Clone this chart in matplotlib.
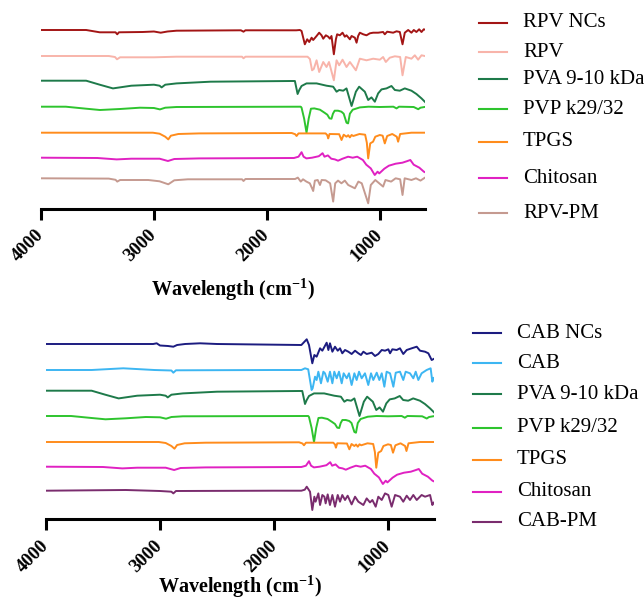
import matplotlib
matplotlib.use("Agg")
import matplotlib.pyplot as plt
import numpy as np
from matplotlib.lines import Line2D

# FTIR spectra: (wavenumber cm-1, relative transmittance offset)
RPV_NC = [(4000, 0), (3600, 0), (3480, -2.3), (3340, -2.3), (3325, -4.3), (3310, -2.3), (3100, -2),
          (3000, -1.5), (2940, -2.7), (2880, -1.5), (2800, -0.7), (2230, -0.3), (2207, -1.7), (2190, -0.3),
          (1740, -0.3), (1708, 0), (1693, -1), (1664, -14.3), (1643, -9.3), (1625, -12), (1604, -7.7),
          (1590, -10), (1560, -6), (1537, -2.7), (1516, -5.3), (1501, -8.7), (1478, -5.3), (1457, -6.7),
          (1442, -8.7), (1428, -6), (1407, -24.3), (1389, -9.3), (1378, -4.3), (1354, -5.3), (1330, -2.7),
          (1310, -6.7), (1295, -5.3), (1265, -9.3), (1250, -6), (1221, -7.7), (1206, -12.7), (1192, -6),
          (1177, -2.7), (1147, -4.3), (1118, -5.3), (1088, -3.3), (1059, -2.7), (1015, -2.7), (971, -2),
          (956, -4.3), (935, -1.7), (882, -2.7), (852, -1.3), (823, -2), (799, -14.3), (779, -2.7),
          (749, 0), (720, -2.7), (699, 0), (676, -2), (652, 0.7), (631, -2), (611, 0.7), (590, 0)]

RPV = [(4000, 0), (3400, 0), (3345, -1), (3327, -3.3), (3300, -1.3), (3000, -1.3), (2800, -0.7),
       (2220, -0.7), (2207, -2.3), (2190, -0.7), (1640, -0.7), (1619, -3), (1600, -14.3), (1585, -13),
       (1560, -4.3), (1537, -16), (1501, -6), (1472, -11), (1450, -6), (1407, -24.3), (1383, -4.3),
       (1360, -9.3), (1330, -3.7), (1295, -11), (1265, -6), (1212, -14.3), (1177, -2.7), (1118, -4.3),
       (1059, -2.7), (1000, -3.7), (971, -1), (947, -6), (912, -1.7), (867, -0.3), (820, -1),
       (799, -19.3), (770, -1), (720, -2.7), (690, 0.7), (661, -3.7), (631, 0.7), (590, -0.3)]

PVA = [(4000, 0), (3600, 0), (3480, -4), (3363, -7.7), (3200, -5), (3000, -4), (2950, -5),
       (2932, -6.7), (2900, -4), (2800, -2.7), (2500, -1), (1780, -0.3), (1752, -0.3), (1728, -13.3),
       (1713, -9.3), (1693, -5.3), (1649, -2.7), (1560, -2.7), (1472, -5), (1413, -6), (1383, -11),
       (1360, -9.3), (1324, -10), (1295, -7.7), (1250, -25.3), (1212, -11), (1183, -6), (1133, -11),
       (1103, -19.3), (1074, -16.7), (1044, -21), (1015, -12.7), (985, -8.7), (941, -7.7), (897, -5.3),
       (867, -9.3), (823, -10), (779, -7.7), (720, -10), (676, -13.3), (631, -17.7), (593, -22)]

PVP = [(4000, 0), (3780, 0), (3600, -2), (3478, -3.3), (3300, -2.3), (3124, -1), (3000, -1.3),
       (2947, -2.7), (2900, -1), (2800, -0.3), (1700, 0), (1693, -1), (1670, -12), (1649, -26),
       (1630, -12), (1610, -2), (1580, -1.7), (1530, -3), (1490, -6), (1465, -8), (1445, -11.7),
       (1428, -12), (1415, -7), (1400, -4), (1370, -4), (1340, -5), (1320, -7), (1295, -16),
       (1281, -16.7), (1265, -7), (1240, -3), (1177, -0.7), (1100, 0), (1000, -0.3), (880, 0),
       (852, -1.7), (830, 0), (700, -0.3), (660, -2.5), (640, -1), (590, 0)]

TPGS = [(4000, 0), (3010, 0), (2950, -1), (2900, -4), (2873, -6.7), (2850, -3), (2784, -1.3),
        (2600, -0.7), (1780, -0.3), (1750, -1.5), (1737, -3.3), (1720, -0.7), (1480, -0.7),
        (1465, -2.5), (1457, -5.7), (1445, -1.3), (1360, -1.5), (1339, -7.3), (1320, -2), (1295, -4),
        (1280, -2.5), (1265, -4.7), (1250, -2.3), (1235, -3.3), (1180, -1.3), (1130, -2), (1115, -10),
        (1103, -25.7), (1085, -10.7), (1060, -9), (1040, -4), (1000, -2.3), (975, -3), (956, -10.7),
        (935, -3.3), (890, -1.3), (850, -4), (838, -9), (820, -1.3), (720, 0), (590, 0)]

CHITOSAN = [(4000, 0), (3500, -0.3), (3330, -1.7), (3200, -1), (2950, -1), (2876, -3.3), (2820, -1.3),
            (2600, -0.7), (1760, -0.3), (1720, 1), (1693, 5.5), (1675, 1), (1650, -0.7), (1600, 0),
            (1560, 1), (1540, 1.5), (1507, 4.5), (1490, 1), (1460, 2.3), (1430, -1), (1398, -1.7),
            (1370, -3), (1330, -1), (1281, 1), (1240, 0), (1200, 1), (1150, -2.3), (1120, -7),
            (1080, -10.7), (1045, -17.3), (1020, -14), (1005, -15.7), (960, -11), (920, -8), (860, -6),
            (800, -5), (760, -3.5), (730, -2.3), (700, -7), (650, -10), (610, -14), (590, -15)]

RPV_PM = [(4000, 0), (3400, -0.3), (3340, -1.5), (3325, -3.3), (3300, -1.7), (3050, -1.7), (2950, -3),
          (2873, -6), (2820, -2), (2700, -1), (2220, -1), (2207, -2.7), (2190, -0.7), (1750, -0.7),
          (1726, 0.7), (1700, -3.3), (1680, -1), (1650, -3.3), (1620, -5), (1600, -10), (1590, -12.7),
          (1575, -2.3), (1550, -1.7), (1530, -6.7), (1515, -1.7), (1480, -2), (1440, -5), (1413, -23.3),
          (1395, -5), (1370, -2.3), (1340, -5), (1310, -2.3), (1280, -6.7), (1221, -10), (1190, -3.3),
          (1160, -5), (1103, -25), (1080, -6.7), (1040, -1.7), (971, -8.3), (950, -1.7), (900, -3.3),
          (860, 0), (820, -1), (799, -16.7), (780, 0), (720, -1.7), (680, 0), (640, -2.3), (600, 0.7),
          (590, 0)]

CAB_NC = [(4000, 0), (3060, 0), (3029, 0.7), (3000, -1.5), (2930, -2), (2883, -2.7), (2850, -1),
          (2780, 0), (2649, 0.7), (2500, 0), (1760, -1), (1713, 4.7), (1693, -1), (1664, -19.3),
          (1646, -11), (1626, -12.7), (1596, -4.3), (1576, -6.7), (1538, 1.3), (1523, -6), (1509, 0.7),
          (1488, -7.7), (1465, -2.7), (1441, -6.7), (1421, -4.3), (1401, -9.3), (1377, -6), (1348, -7.7),
          (1319, -10), (1289, -6.7), (1260, -9.3), (1237, -11), (1216, -7.7), (1187, -10), (1143, -8.7),
          (1114, -12), (1085, -10), (1055, -6), (1026, -6.7), (997, -5.3), (982, -9.3), (962, -5.3),
          (924, -6), (895, -4.3), (866, -10), (836, -6), (792, -4.3), (748, -2.7), (719, -6.7),
          (675, -7.7), (646, -9.3), (617, -16), (600, -15)]

CAB = [(4000, 0), (3600, 0), (3322, 1.7), (3050, 0), (2900, -0.5), (2883, -2.7), (2860, -0.3), (2000, 0),
       (1760, 0), (1728, 1.7), (1700, 0.7), (1670, -20), (1661, -18.3), (1640, -6.7), (1626, -10),
       (1611, -1.7), (1588, -13.3), (1567, -1.7), (1553, -3.3), (1529, -11.7), (1509, -1.7),
       (1488, -13.3), (1471, -1.7), (1450, -8.3), (1430, -1.7), (1406, -13.3), (1389, -3.3),
       (1362, -8.3), (1342, -3.3), (1319, -15), (1295, -3.3), (1275, -10), (1254, -1.7), (1231, -8.3),
       (1202, -3.3), (1173, -15), (1149, -3.3), (1129, -10), (1099, -2.7), (1076, -10), (1055, -3.3),
       (1032, -16.7), (1012, -1.7), (982, -3.3), (953, -16.7), (932, -2.7), (895, -1.7), (866, -10),
       (845, -1.7), (807, -3.3), (778, -8.3), (757, -1.7), (734, -10), (705, -3.3), (661, 0),
       (626, 1.7), (611, -11.7), (600, -8)]

CAB_PM = [(4000, 0), (3300, 0.7), (3000, -0.3), (2900, -1), (2883, -2.7), (2860, -0.3), (2000, 0),
          (1760, 0), (1730, 1), (1713, 4), (1684, -1), (1664, -19.3), (1646, -6), (1635, -11),
          (1611, -2.7), (1596, -14.3), (1576, -4.3), (1558, -6), (1547, -12.7), (1529, -3.7),
          (1509, -14.3), (1488, -4.3), (1465, -16), (1441, -4.3), (1421, -11), (1401, -4.3), (1377, -9.3),
          (1354, -5), (1319, -13.7), (1289, -6), (1260, -11), (1216, -14.3), (1187, -7.7), (1158, -11.7),
          (1137, -9.3), (1108, -16), (1085, -6), (1055, -9.3), (1026, -2.7), (997, -4.3), (968, -16),
          (938, -4.3), (895, -6), (866, -11), (836, -5), (807, -9.3), (778, -4.3), (748, -9.3),
          (705, -4.3), (675, -6), (631, -4.3), (611, -14.3), (600, -12)]

top_names = ["RPV NCs", "RPV", "PVA 9-10 kDa", "PVP k29/32", "TPGS", "Chitosan", "RPV-PM"]
bottom_names = ["CAB NCs", "CAB", "PVA 9-10 kDa", "PVP k29/32", "TPGS", "Chitosan", "CAB-PM"]
top_spectra = [RPV_NC, RPV, PVA, PVP, TPGS, CHITOSAN, RPV_PM]
bottom_spectra = [CAB_NC, CAB, PVA, PVP, TPGS, CHITOSAN, CAB_PM]
ticks = [4000, 3000, 2000, 1000]

top_colors = ["#A31515", "#F8B4AA", "#1E7A4A", "#2EC42E", "#FF8C1C", "#E021C2", "#C59A90"]
bottom_colors = ["#1C1C80", "#3DB6F2", "#1E7A4A", "#2EC42E", "#FF8C1C", "#E021C2", "#7A2C6E"]

serif = ["Liberation Serif", "DejaVu Serif"]
plt.rcParams["font.family"] = serif
plt.rcParams["mathtext.fontset"] = "custom"
plt.rcParams["mathtext.rm"] = "Liberation Serif:bold"
plt.rcParams["mathtext.bf"] = "Liberation Serif:bold"

W, H = 644, 613
fig = plt.figure(figsize=(W / 100, H / 100), dpi=100)


def fx(px):
    return px / W


def fy(py):
    return 1 - py / H


def draw_panel(left, right, axis_y, baselines, spectra, colors, names, leg_x, leg_text_x, leg_ys, label_y):
    ax = fig.add_axes([fx(left), fy(axis_y), fx(right - left), 189 / H])
    for base, spec, col in zip(baselines, spectra, colors):
        wn = np.array([p[0] for p in spec])
        val = np.array([p[1] for p in spec])
        ax.plot(wn, val + base, color=col, lw=1.4)
    ax.set_xlim(4000, 600)
    ax.set_ylim(0, 189)
    for s in ["top", "left", "right"]:
        ax.spines[s].set_visible(False)
    ax.spines["bottom"].set_linewidth(2.2)
    ax.set_yticks([])
    ax.set_xticks(ticks)
    ax.tick_params(axis="x", length=8, width=2.2, pad=9)
    ax.set_xticklabels([str(t) for t in ticks], rotation=45, ha="right", va="center",
                       rotation_mode="anchor", fontsize=13.5, fontweight="bold")
    fig.text(fx((left + right) / 2), fy(label_y), "Wavelength (cm$^{\\mathbf{-1}}$)",
             ha="center", va="center", fontsize=14.5, fontweight="bold")
    # legend drawn by hand, spacing in the original is uneven
    for y, col, name in zip(leg_ys, colors, names):
        fig.add_artist(Line2D([fx(leg_x), fx(leg_x + 28)], [fy(y), fy(y)], color=col, lw=1.5))
        fig.text(fx(leg_text_x), fy(y), name, ha="left", va="center", fontsize=15)
    return ax


draw_panel(41, 425, 209, [179, 153, 128.3, 102.3, 76.3, 51.3, 30.7], top_spectra, top_colors,
           top_names, 479, 523, [22.7, 52.3, 79, 109, 141.7, 178.3, 213], 290)
draw_panel(46, 433.6, 519.3, [175.3, 149.3, 128.6, 103.3, 77.3, 52.6, 28.6], bottom_spectra,
           bottom_colors, bottom_names, 473, 517, [333, 363.3, 394.3, 427.7, 460, 491.7, 521.7], 587)

fig.savefig("out.png", dpi=100)
